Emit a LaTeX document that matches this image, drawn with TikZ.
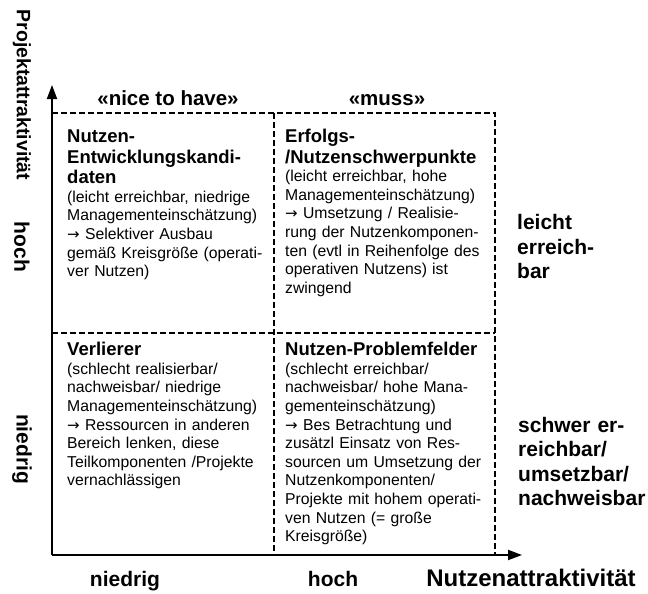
\documentclass[tikz,border=0pt]{standalone}
\usepackage{fontspec}
\setmainfont{Liberation Sans}
\newfontfamily\arrowf{DejaVu Sans}
\usetikzlibrary{arrows.meta}
\newcommand{\titlef}{\bfseries\fontsize{18.5}{20.5}\selectfont}
\newcommand{\bodyf}{\fontsize{15.75}{18.6}\selectfont}
\newcommand{\rarr}{{\arrowf\fontsize{15}{18.6}\selectfont →}}
\begin{document}
\begin{tikzpicture}[x=1pt,y=-1pt,
  cell/.style={anchor=base west, inner sep=0pt, text width=215pt, align=left, font=\bodyf},
  lbl/.style={inner sep=0pt, font=\bfseries\fontsize{21}{24.5}\selectfont},
  vlbl/.style={inner sep=0pt, rotate=-90, font=\bfseries\fontsize{21}{24.5}\selectfont},
  rlbl/.style={anchor=base west, inner sep=0pt, text width=130pt, align=left, font=\bfseries\fontsize{21}{24.5}\selectfont},
  axis/.style={line width=2pt, -{Triangle[length=14pt,width=10pt]}},
  grid/.style={line width=1.3pt, dash pattern=on 5.5pt off 3.5pt}]
\useasboundingbox (0,0) rectangle (648,594);
\coordinate (O) at (52,555);
\coordinate (Ytop) at (52,85);
\coordinate (Xend) at (522,555);
\coordinate (TL) at (52,113);
\coordinate (TM) at (274,113);
\coordinate (TR) at (495,113);
\coordinate (ML) at (52,333);
\coordinate (MR) at (495,333);
\coordinate (BM) at (274,555);
\coordinate (BR) at (495,555);
% dashed grid
\draw[grid] (TL) -- (TR) -- (BR);
\draw[grid] (ML) -- (MR);
\draw[grid] (TM) -- (BM);
% axes
\draw[axis] (O) -- (Ytop);
\draw[axis] (O) -- (Xend);
% axis labels
\node[vlbl, font=\bfseries\fontsize{19.4}{22}\selectfont] (ylab) at (22,95) {Projektattraktivität};
\node[vlbl] (yhoch) at (22,247) {hoch};
\node[vlbl] (ynied) at (22,449) {niedrig};
\node[lbl, anchor=base] (xnied) at (125,586) {niedrig};
\node[lbl, anchor=base] (xhoch) at (333,586) {hoch};
\node[lbl, anchor=base, font=\bfseries\fontsize{24}{26}\selectfont] (xlab) at (531,586) {Nutzenattraktivität};
% top labels
\node[lbl, anchor=base, font=\bfseries\fontsize{20.5}{24}\selectfont] (nice) at (168,106) {«nice to have»};
\node[lbl, anchor=base, font=\bfseries\fontsize{20.5}{24}\selectfont] (muss) at (387,106) {«muss»};
% right labels
\node[rlbl] (leicht) at (517,229.5) {leicht\\erreich-\\bar};
\node[rlbl] (schwer) at (518,432) {schwer er-\\reichbar/\\umsetzbar/\\nachweisbar};
% cells
\node[cell] (q1) at (67,142.6) {{\titlef Nutzen-\\Entwicklungskandi-\\daten\par}(leicht erreichbar, niedrige\\Managementeinschätzung)\\\rarr\ Selektiver Ausbau\\gemäß Kreisgröße (operati-\\ver Nutzen)};
\node[cell] (q2) at (285,142.6) {{\titlef Erfolgs-\\/Nutzenschwerpunkte\par}(leicht erreichbar, hohe\\Managementeinschätzung)\\\rarr\ Umsetzung / Realisie-\\rung der Nutzenkomponen-\\ten (evtl in Reihenfolge des\\operativen Nutzens) ist\\zwingend};
\node[cell] (q3) at (67,355.6) {{\titlef Verlierer\par}(schlecht realisierbar/\\nachweisbar/ niedrige\\Managementeinschätzung)\\\rarr\ Ressourcen in anderen\\Bereich lenken, diese\\Teilkomponenten /Projekte\\vernachlässigen};
\node[cell] (q4) at (285,355.6) {{\titlef Nutzen-Problemfelder\par}(schlecht erreichbar/\\nachweisbar/ hohe Mana-\\gementeinschätzung)\\\rarr\ Bes Betrachtung und\\zusätzl Einsatz von Res-\\sourcen um Umsetzung der\\Nutzenkomponenten/\\Projekte mit hohem operati-\\ven Nutzen (= große\\Kreisgröße)};
\end{tikzpicture}
\end{document}
